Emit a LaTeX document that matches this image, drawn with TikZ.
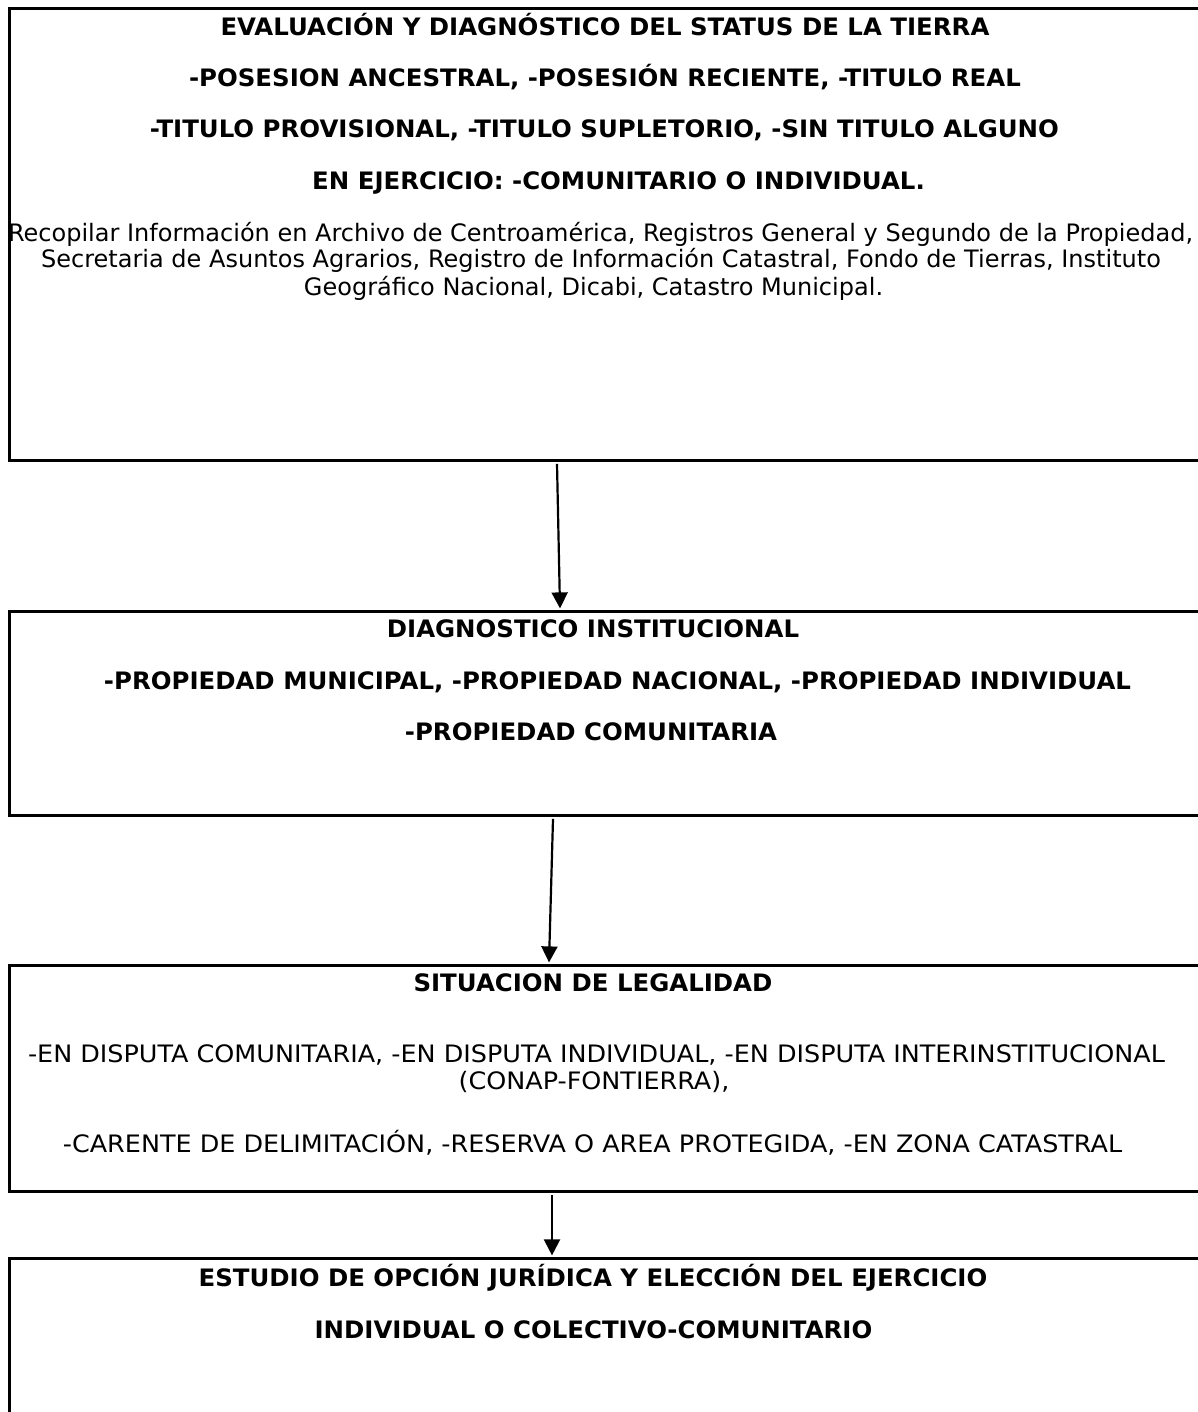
\documentclass[tikz,border=0pt]{standalone}
\usepackage{fontspec}
\setmainfont{DejaVu Sans}
\usepackage{graphicx}
\usetikzlibrary{arrows.meta,calc}
\newsavebox\measbox
\newlength\regw
\newlength\boldw
\newlength\capw
\AtBeginDocument{%
\sbox\measbox{\normalfont\fontsize{24}{28}\selectfont Recopilar Información en Archivo de Centroamérica, Registros General y Segundo de la Propiedad,}%
\global\regw=\wd\measbox
\sbox\measbox{\normalfont\fontsize{24}{28}\selectfont\bfseries -PROPIEDAD MUNICIPAL, -PROPIEDAD NACIONAL, -PROPIEDAD INDIVIDUAL}%
\global\boldw=\wd\measbox
\sbox\measbox{\normalfont\fontsize{24}{28}\selectfont -EN DISPUTA COMUNITARIA, -EN DISPUTA INDIVIDUAL, -EN DISPUTA INTERINSTITUCIONAL}%
\global\capw=\wd\measbox
\pgfmathsetmacro\rfac{1185/\regw}%
\pgfmathsetmacro\bfac{1027/\boldw}%
\pgfmathsetmacro\cfac{1137/\capw}%
\xdef\rfac{\rfac}\xdef\bfac{\bfac}\xdef\cfac{\cfac}%
}
\newcommand{\rl}[1]{\scalebox{\rfac}[1]{#1}}
\newcommand{\bl}[1]{\scalebox{\bfac}[1]{#1}}
\newcommand{\cl}[1]{\scalebox{\cfac}[1]{#1}}
\tikzset{
  box/.style={draw, line width=3.2pt, inner sep=0pt, anchor=north west},
  ln/.style={anchor=base, inner sep=0pt, font=\fontsize{24}{28}\selectfont},
  bln/.style={anchor=base, inner sep=0pt, font=\fontsize{24}{28}\selectfont\bfseries},
  arr/.style={line width=2.2pt, -{Triangle[width=16pt,length=16pt]}}
}
\begin{document}
\begin{tikzpicture}[x=1pt,y=-1pt]
\useasboundingbox (0,0) rectangle (1198,1412);
\clip (0,0) rectangle (1198,1412);
\fill[white] (0,0) rectangle (1198,1412);
% boxes
\node[box, minimum width=1210pt, minimum height=452pt] (b1) at (8,7) {};
\node[box, minimum width=1210pt, minimum height=204pt] (b2) at (8,610) {};
\node[box, minimum width=1210pt, minimum height=226pt] (b3) at (8,964) {};
\node[box, minimum width=1210pt, minimum height=260pt] (b4) at (8,1257) {};
% box 1 text
\node[bln] (t11) at (605,36) {\bl{EVALUACIÓN Y DIAGNÓSTICO DEL STATUS DE LA TIERRA}};
\node[bln] (t12) at (605,87) {\bl{-POSESION ANCESTRAL, -POSESIÓN RECIENTE, -TITULO REAL}};
\node[bln] (t13) at (604.5,138) {\bl{-TITULO PROVISIONAL, -TITULO SUPLETORIO, -SIN TITULO ALGUNO}};
\node[bln] (t14) at (618.5,190) {\bl{EN EJERCICIO: -COMUNITARIO O INDIVIDUAL.}};
\node[ln] (t15) at (600.5,242) {\rl{Recopilar Información en Archivo de Centroamérica, Registros General y Segundo de la Propiedad,}};
\node[ln] (t16) at (601,268) {\rl{Secretaria de Asuntos Agrarios, Registro de Información Catastral, Fondo de Tierras, Instituto}};
\node[ln] (t17) at (593.5,295) {\rl{Geográfico Nacional, Dicabi, Catastro Municipal.}};
% box 2 text
\node[bln] (t21) at (593,637) {\bl{DIAGNOSTICO INSTITUCIONAL}};
\node[bln] (t22) at (617.5,689) {\bl{-PROPIEDAD MUNICIPAL, -PROPIEDAD NACIONAL, -PROPIEDAD INDIVIDUAL}};
\node[bln] (t23) at (591,740) {\bl{-PROPIEDAD COMUNITARIA}};
% box 3 text
\node[bln] (t31) at (593,991) {\bl{SITUACION DE LEGALIDAD}};
\node[ln] (t32) at (596.5,1062) {\cl{-EN DISPUTA COMUNITARIA, -EN DISPUTA INDIVIDUAL, -EN DISPUTA INTERINSTITUCIONAL}};
\node[ln] (t33) at (594,1089) {\cl{(CONAP-FONTIERRA),}};
\node[ln] (t34) at (592.5,1152) {\cl{-CARENTE DE DELIMITACIÓN, -RESERVA O AREA PROTEGIDA, -EN ZONA CATASTRAL}};
% box 4 text
\node[bln] (t41) at (593,1286) {\bl{ESTUDIO DE OPCIÓN JURÍDICA Y ELECCIÓN DEL EJERCICIO}};
\node[bln] (t42) at (593.5,1338) {\bl{INDIVIDUAL O COLECTIVO-COMUNITARIO}};
% connectors
\coordinate (a1s) at ($(b1.south west)+(549,1.6)$);
\coordinate (a1e) at ($(b2.north west)+(552,-1.6)$);
\coordinate (a2s) at ($(b2.south west)+(545,1.6)$);
\coordinate (a2e) at ($(b3.north west)+(541,-1.6)$);
\coordinate (a3s) at ($(b3.south west)+(544,1.6)$);
\coordinate (a3e) at ($(b4.north west)+(544,-1.6)$);
\draw[arr] (a1s) -- (a1e);
\draw[arr] (a2s) -- (a2e);
\draw[arr] (a3s) -- (a3e);
\end{tikzpicture}
\end{document}
